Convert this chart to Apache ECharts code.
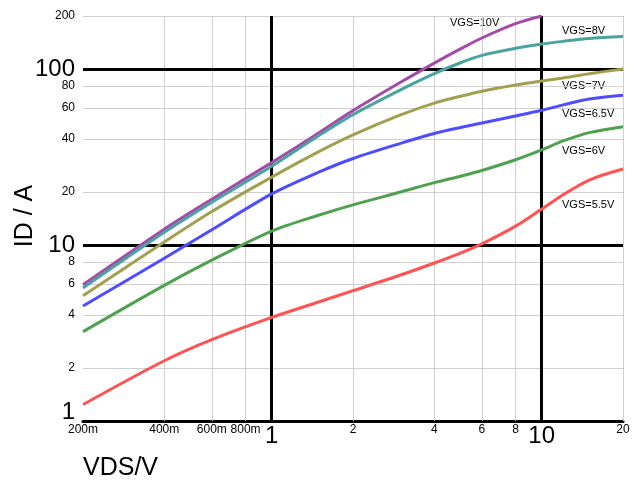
<!DOCTYPE html>
<html><head><meta charset="utf-8">
<script src="https://cdn.jsdelivr.net/npm/echarts@6/dist/echarts.min.js"></script>
<style>html,body{margin:0;padding:0;background:#fff}#c{width:637px;height:481px}</style>
</head><body><div id="c"></div>
<script>
// Drain current ID (A) vs drain-source voltage VDS (V), log-log
const vds   = [0.2, 0.4, 0.6, 1, 1.5, 2, 3, 4, 5, 6, 8, 10, 12, 15, 20];
const id10  = [5.95, 12.3, 18.2, 29.4, 43.5, 58, 84, 108, 130, 150, 181, 200, null, null, null];
const id8   = [5.7, 11.8, 17.5, 28, 42, 55, 76, 94, 108.5, 119.5, 131, 138.5, 143.5, 149, 153];
const id7   = [5.15, 10.4, 15.5, 24.3, 34, 42.2, 54.8, 64, 70, 74.8, 81, 85.5, 89, 94, 100];
const id65  = [4.5, 8.4, 12.2, 19.5, 26, 31, 37.8, 43, 46.5, 49.3, 54.1, 58.3, 62.5, 67.6, 71];
const id6   = [3.22, 5.9, 8.2, 12.0, 14.8, 16.9, 20, 22.6, 24.6, 26.5, 30.5, 34.7, 39, 43.5, 47];
const id55  = [1.24, 2.2, 2.9, 3.88, 4.76, 5.5, 6.75, 7.9, 9.0, 10.15, 12.8, 16, 19.3, 23.4, 27];
const seriesNames = ['VGS=10V', 'VGS=8V', 'VGS=7V', 'VGS=6.5V', 'VGS=6V', 'VGS=5.5V'];
const xTicks = [0.2, 0.4, 0.6, 0.8, 1, 2, 4, 6, 8, 10, 20];
const yTicks = [1, 2, 4, 6, 8, 10, 20, 40, 60, 80, 100, 200];
const xMajor = [1, 10];
const yMajor = [10, 100];

const allIds = [id10, id8, id7, id65, id6, id55];
const colors = ['#a24ca8', '#4aa3a1', '#a0a050', '#4d4dff', '#4fa04f', '#ff5353'];
const labelPos = [[450, 23], [562, 31], [562, 86], [562, 114], [562, 151], [562, 205]];
const FONT = 'Liberation Sans, Arial, Helvetica, sans-serif';

function xFmt(v) {
  if (v < 1) return '{s|' + Math.round(v * 1000) + 'm}';
  return xMajor.indexOf(v) >= 0 ? '{b|' + v + '}' : '{s|' + v + '}';
}
function yFmt(v) {
  if (v === 1) return '{b1|1}';
  return yMajor.indexOf(v) >= 0 ? '{b|' + v + '}' : '{s|' + v + '}';
}

const gridX = xTicks.filter(v => v > 0.2 && xMajor.indexOf(v) < 0);
const gridY = yTicks.filter(v => v > 1 && yMajor.indexOf(v) < 0);

const series = [{
  type: 'line', data: [], z: 1, silent: true,
  markLine: {
    silent: true, symbol: 'none', animation: false, label: { show: false },
    lineStyle: { color: '#cfcfcf', width: 1, type: 'solid' },
    data: gridX.map(v => ({ xAxis: v })).concat(gridY.map(v => ({ yAxis: v })))
  }
}, {
  type: 'line', data: [], z: 2, silent: true,
  markLine: {
    silent: true, symbol: 'none', animation: false, label: { show: false },
    lineStyle: { color: '#000', width: 3, type: 'solid' },
    data: xMajor.map(v => ({ xAxis: v })).concat(yMajor.map(v => ({ yAxis: v })))
  }
}];
allIds.forEach((arr, i) => {
  series.push({
    name: seriesNames[i], type: 'line', z: 5, smooth: 0.3, showSymbol: false, symbol: 'none',
    data: vds.map((x, k) => [x, arr[k]]).filter(p => p[1] != null),
    lineStyle: { color: colors[i], width: 3 }, itemStyle: { color: colors[i] },
    animation: false
  });
});

const chart = echarts.init(document.getElementById('c'), null, { renderer: 'canvas' });
chart.setOption({
  backgroundColor: '#fff',
  animation: false,
  grid: { left: 83, right: 14, top: 16, bottom: 60, containLabel: false },
  xAxis: {
    type: 'log', min: 0.2, max: 20, logBase: 10,
    axisLine: { show: true, onZero: false, lineStyle: { color: '#000', width: 3 } },
    axisTick: { show: false },
    splitLine: { show: false },
    axisLabel: {
      customValues: xTicks, formatter: xFmt, margin: 3, color: '#000', fontFamily: FONT,
      rich: {
        s: { fontSize: 12, fontFamily: FONT, color: '#000' },
        b: { fontSize: 24, fontFamily: FONT, color: '#000' }
      }
    }
  },
  yAxis: {
    type: 'log', min: 1, max: 200, logBase: 10,
    axisLine: { show: false },
    axisTick: { show: false },
    splitLine: { show: false },
    axisLabel: {
      customValues: yTicks, formatter: yFmt, margin: 8, color: '#000', fontFamily: FONT,
      rich: {
        s: { fontSize: 12, fontFamily: FONT, color: '#000' },
        b: { fontSize: 24, fontFamily: FONT, color: '#000' },
        b1: { fontSize: 24, fontFamily: FONT, color: '#000', padding: [0, 0, 18, 0] }
      }
    }
  },
  graphic: [
    { type: 'text', left: 83, top: 456, style: { text: 'VDS/V', font: '25px ' + FONT, fill: '#000' } },
    { type: 'text', x: 25, y: 216, rotation: Math.PI / 2,
      style: { text: 'ID / A', font: '25px ' + FONT, fill: '#000', align: 'center', verticalAlign: 'middle' } }
  ].concat(seriesNames.map((n, i) => ({
    type: 'text', x: labelPos[i][0], y: labelPos[i][1],
    style: { text: n, font: '11px ' + FONT, fill: '#000', verticalAlign: 'middle' }
  }))),
  series: series
});
</script></body></html>
